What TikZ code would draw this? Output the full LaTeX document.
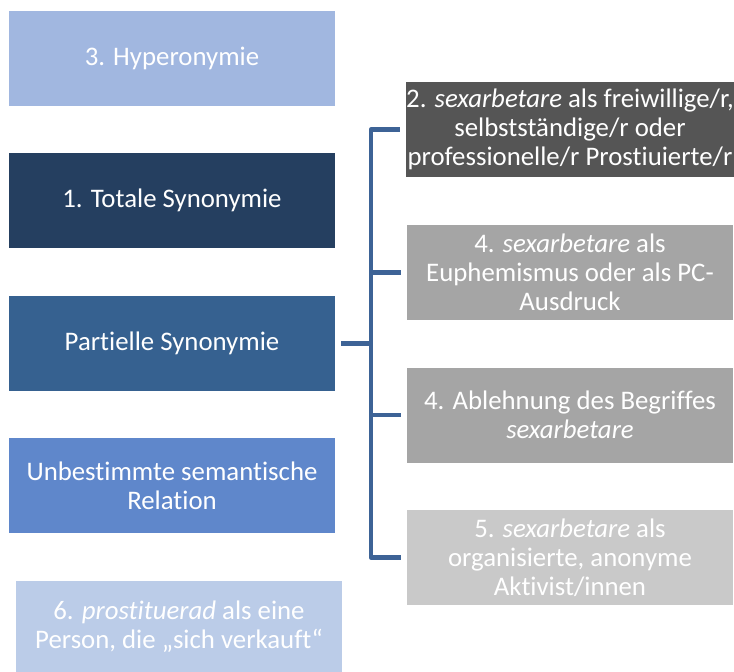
\documentclass[tikz,border=0pt]{standalone}
\usepackage{fontspec}
\setmainfont{Carlito}[RawFeature=-liga]
\usetikzlibrary{positioning}
\definecolor{hyper}{HTML}{A1B7E0}
\definecolor{total}{HTML}{253F60}
\definecolor{partiell}{HTML}{366190}
\definecolor{unbest}{HTML}{5F87CB}
\definecolor{prost}{HTML}{BBCCE8}
\definecolor{darkgr}{HTML}{555555}
\definecolor{midgr}{HTML}{A5A5A5}
\definecolor{lightgr}{HTML}{C9C9C9}
\definecolor{linkblue}{HTML}{3D6396}

\begin{document}
\begin{tikzpicture}[x=1pt,y=-1pt,
	box/.style={minimum width=326pt, minimum height=95pt, inner sep=0pt,
		align=center, text=white, font=\fontsize{26.8}{29}\selectfont},
	link/.style={draw=linkblue, line width=4.5pt, line join=round}]

	\useasboundingbox (0,0) rectangle (734,672);

	% left column
	\node[box, fill=hyper] (hyper) at (172,58.5) {3. Hyperonymie};
	\node[box, fill=total] (total) at (172,200.5) {1. Totale Synonymie};
	\node[box, fill=partiell] (part) at (172,343.5) {Partielle Synonymie};
	\node[box, fill=unbest] (unbest) at (172,485.5) {Unbestimmte semantische\\Relation};
	\node[box, fill=prost, minimum height=91pt] (prost) at (179,626.5)
		{6. \textit{prostituerad} als eine\\Person, die „sich verkauft“};

	% right column
	\node[box, fill=darkgr] (frei) at (570,129.5)
		{2. \textit{sexarbetare} als freiwillige/r,\\selbstständige/r oder\\professionelle/r Prostiuierte/r};
	\node[box, fill=midgr] (euph) at (570,272.5)
		{4. \textit{sexarbetare} als\\Euphemismus oder als PC-\\Ausdruck};
	\node[box, fill=midgr] (ablehn) at (570,415)
		{4. Ablehnung des Begriffes\\\textit{sexarbetare}};
	\node[box, fill=lightgr] (aktiv) at (570,557.5)
		{5. \textit{sexarbetare} als\\organisierte, anonyme\\Aktivist/innen};

	% bracket
	\draw[link] ([xshift=-6pt]frei.west) -| ([xshift=-36pt]aktiv.west) -- ([xshift=-6pt]aktiv.west);
	\draw[link] ([xshift=-6pt]euph.west) -- ++(-30,0);
	\draw[link] ([xshift=-6pt]ablehn.west) -- ++(-30,0);
	\draw[link] ([xshift=6pt]part.east) -- ++(30,0);

\end{tikzpicture}
\end{document}
